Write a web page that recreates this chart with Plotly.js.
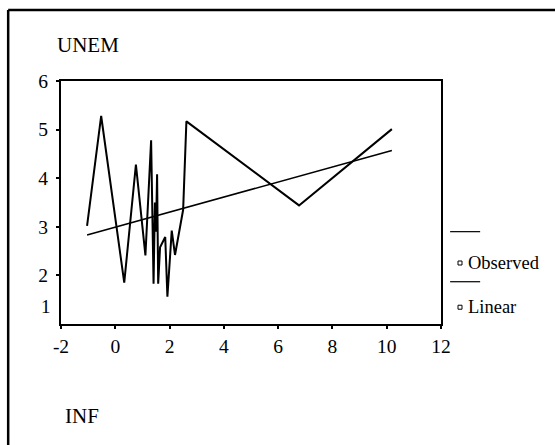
<!DOCTYPE html>
<html>
<head>
<meta charset="utf-8">
<script src="https://cdn.plot.ly/plotly-3.0.1.min.js"></script>
<style>
html,body{margin:0;padding:0;background:#fff;}
#chart{width:555px;height:445px;}
</style>
</head>
<body>
<div id="chart"></div>
<script>
// Observed UNEM vs INF
const obsX = [-1.04, -0.52, 0.33, 0.76, 1.11, 1.32, 1.41, 1.46, 1.50, 1.54, 1.58, 1.65, 1.84, 1.92, 2.08, 2.20, 2.50, 2.62, 6.77, 10.19];
const obsY = [3.02, 5.28, 1.85, 4.28, 2.41, 4.78, 1.83, 3.50, 2.90, 4.08, 1.83, 2.58, 2.79, 1.56, 2.92, 2.42, 3.35, 5.17, 3.44, 5.01];
// Linear fit
const linX = [-1.04, 10.19];
const linY = [2.83, 4.57];
const xTicks = [-2, 0, 2, 4, 6, 8, 10, 12];
const yTicks = [2, 3, 4, 5, 6];
const legendNames = ["Observed", "Linear"];
const yLabel = "UNEM";
const xLabel = "INF";

const FONT = "Liberation Serif, Times New Roman, serif";

const traces = [
  {x: obsX, y: obsY, mode: "lines", type: "scatter", name: legendNames[0],
   line: {color: "#000", width: 2}, hoverinfo: "skip"},
  {x: linX, y: linY, mode: "lines", type: "scatter", name: legendNames[1],
   line: {color: "#000", width: 1.6}, hoverinfo: "skip"}
];

// custom legend: a line above, then small square + label
const legRows = [
  {lineY: 0.38, textY: 0.251},
  {lineY: 0.174, textY: 0.069}
];
const shapes = [
  // outer frame (left and top)
  {type: "line", xref: "paper", yref: "paper", x0: -0.139, x1: -0.139, y0: 1.292, y1: -0.53, line: {color: "#000", width: 2.5}},
  {type: "line", xref: "paper", yref: "paper", x0: -0.139, x1: 1.35, y0: 1.292, y1: 1.292, line: {color: "#000", width: 2.5}}
];
const annotations = [
  {text: yLabel, xref: "paper", yref: "paper", x: -0.016, y: 1.148, xanchor: "left", yanchor: "middle", showarrow: false, font: {family: FONT, size: 21, color: "#000"}},
  {text: xLabel, xref: "paper", yref: "paper", x: 0.005, y: -0.38, xanchor: "left", yanchor: "middle", showarrow: false, font: {family: FONT, size: 21, color: "#000"}},
  {text: "1", xref: "paper", yref: "y", x: 0, y: 1, xanchor: "right", yanchor: "middle", xshift: -8, yshift: 18, showarrow: false, font: {family: FONT, size: 19, color: "#000"}}
];
legRows.forEach((r, i) => {
  shapes.push({type: "line", xref: "paper", yref: "paper", x0: 1.024, x1: 1.103, y0: r.lineY, y1: r.lineY, line: {color: "#000", width: 1.2}});
  shapes.push({type: "rect", xref: "paper", yref: "paper", xsizemode: "pixel", ysizemode: "pixel",
    xanchor: 1.05, yanchor: r.textY, x0: -2, x1: 2, y0: -2, y1: 2, line: {color: "#000", width: 1}, fillcolor: "#fff"});
  annotations.push({text: legendNames[i], xref: "paper", yref: "paper", x: 1.066, y: r.textY, xanchor: "left", yanchor: "middle",
    showarrow: false, font: {family: FONT, size: 18.5, color: "#000"}});
});

const layout = {
  width: 555, height: 445,
  margin: {l: 61, r: 114, t: 81, b: 121, pad: 0},
  paper_bgcolor: "#fff", plot_bgcolor: "#fff",
  showlegend: false,
  font: {family: FONT, size: 19, color: "#000"},
  xaxis: {range: [-2, 12], tickvals: xTicks, ticktext: xTicks.map(String), showgrid: false, zeroline: false,
    showline: true, linecolor: "#000", linewidth: 2, mirror: true, ticks: "outside", ticklen: 3, tickwidth: 2, tickcolor: "#000",
    ticklabelstandoff: 1, tickfont: {family: FONT, size: 19.5, color: "#000"}},
  yaxis: {range: [1, 6], tickvals: yTicks, ticktext: yTicks.map(String), showgrid: false, zeroline: false,
    showline: true, linecolor: "#000", linewidth: 2, mirror: true, ticks: "outside", ticklen: 3, tickwidth: 2, tickcolor: "#000",
    ticklabelstandoff: 4, tickfont: {family: FONT, size: 19.5, color: "#000"}},
  shapes: shapes,
  annotations: annotations
};

Plotly.newPlot("chart", traces, layout, {staticPlot: true, displayModeBar: false});
</script>
</body>
</html>
